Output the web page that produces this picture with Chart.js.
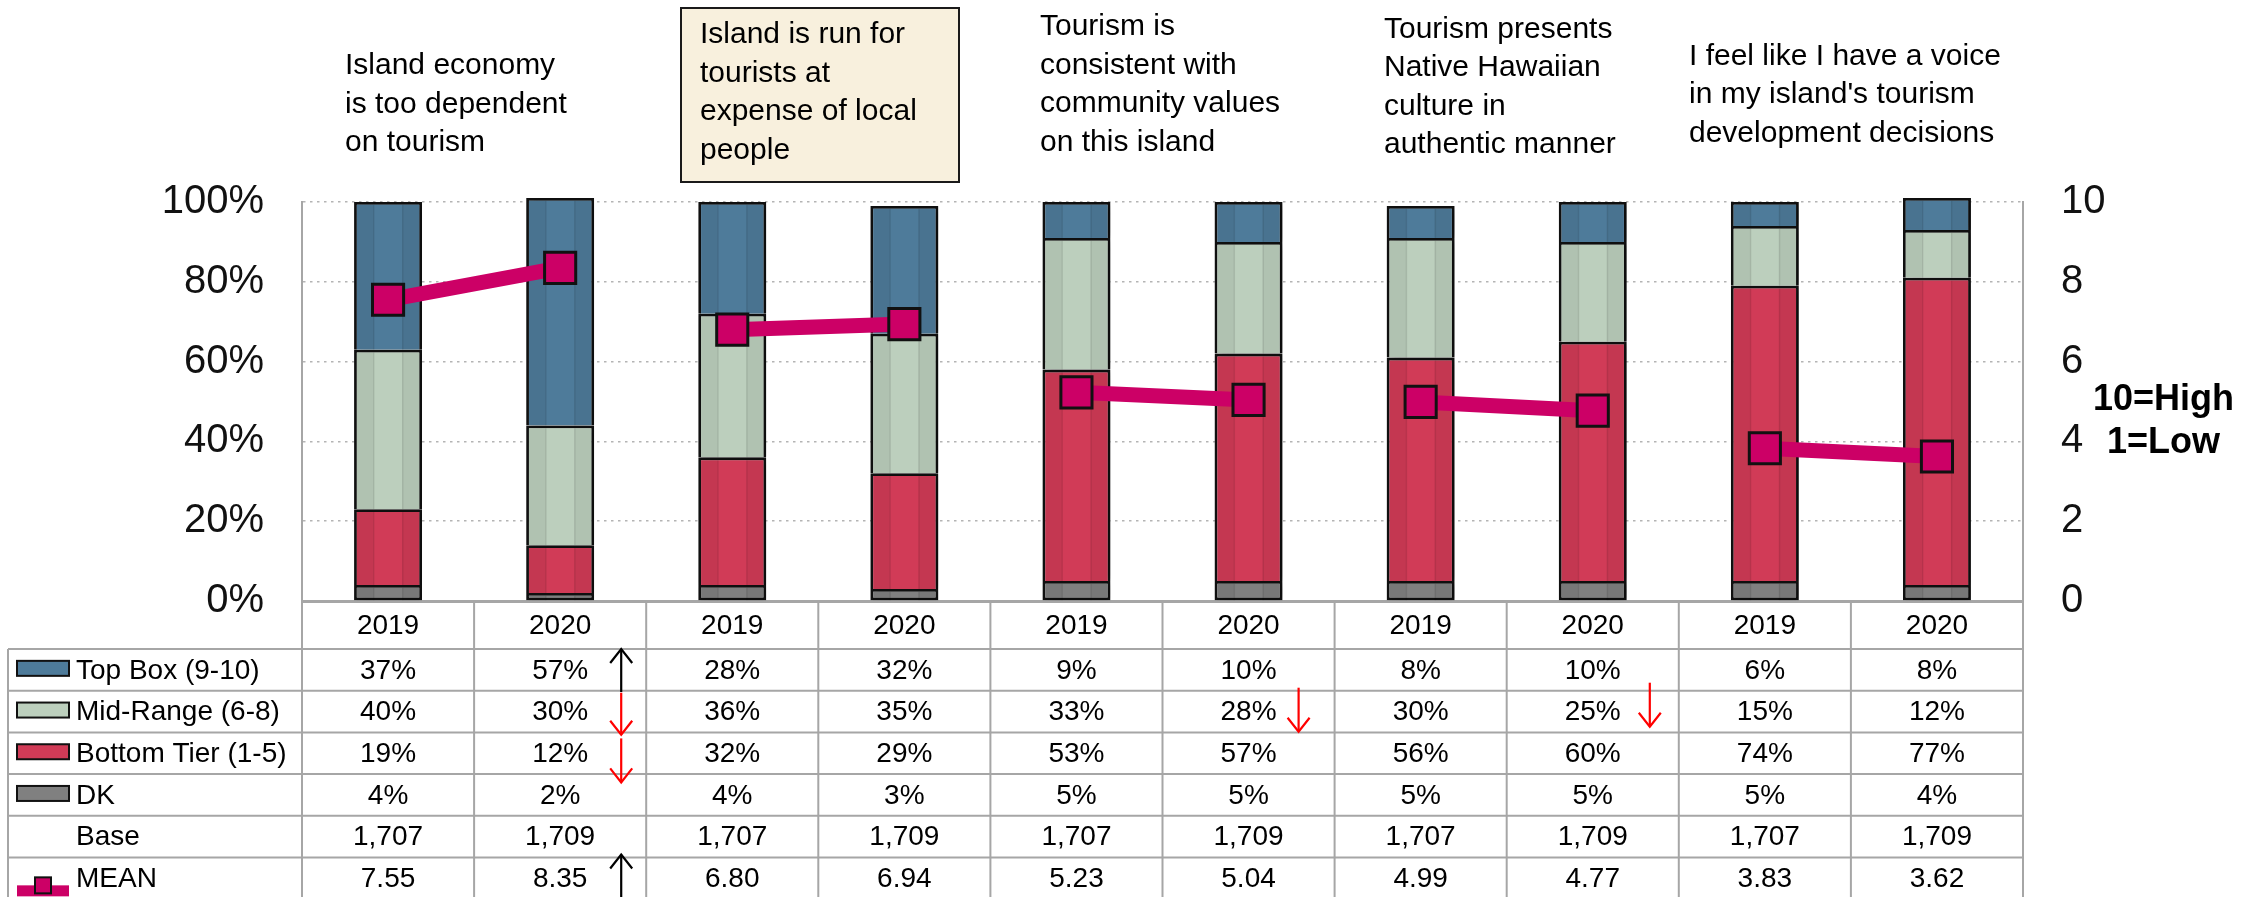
<!DOCTYPE html>
<html>
<head>
<meta charset="utf-8">
<script src="https://cdn.jsdelivr.net/npm/chart.js@4.4.1/dist/chart.umd.min.js"></script>
<style>
  html, body { margin: 0; padding: 0; background: #fff; }
  #wrap { width: 2264px; height: 897px; }
</style>
</head>
<body>
<div id="wrap"><canvas id="tourismChart" width="2264" height="897"></canvas></div>
<script>
// ---------- data ----------
const years = ["2019", "2020", "2019", "2020", "2019", "2020", "2019", "2020", "2019", "2020"];

const statements = [
    ["Island economy", "is too dependent", "on tourism"],
    ["Island is run for", "tourists at", "expense of local", "people"],
    ["Tourism is", "consistent with", "community values", "on this island"],
    ["Tourism presents", "Native Hawaiian", "culture in", "authentic manner"],
    ["I feel like I have a voice", "in my island's tourism", "development decisions"]
];

const topBox     = [37, 57, 28, 32, 9, 10, 8, 10, 6, 8];
const midRange   = [40, 30, 36, 35, 33, 28, 30, 25, 15, 12];
const bottomTier = [19, 12, 32, 29, 53, 57, 56, 60, 74, 77];
const dontKnow   = [4, 2, 4, 3, 5, 5, 5, 5, 5, 4];
const baseSizes  = [1707, 1709, 1707, 1709, 1707, 1709, 1707, 1709, 1707, 1709];
const meanScores = [7.55, 8.35, 6.80, 6.94, 5.23, 5.04, 4.99, 4.77, 3.83, 3.62];

const pctTicks  = [0, 20, 40, 60, 80, 100];
const meanTicks = [0, 2, 4, 6, 8, 10];

// ---------- styling ----------
const FONT = '"Liberation Sans", Arial, sans-serif';
const COLORS = {
    top: "#4e7b9a",
    mid: "#bccfbd",
    bottom: "#d13b57",
    dk: "#808080",
    mean: "#cc0066",
    grid: "#b4b4b4",
    rule: "#a6a6a6"
};

// where each statement heading sits (left x, first line middle y)
const headerPos = [
    { x: 345, y: 66 },
    { x: 700, y: 35, boxed: true },
    { x: 1040, y: 27 },
    { x: 1384, y: 29.5 },
    { x: 1689, y: 56.5 }
];
const LINE_GAP = 38.5;

// significance arrows in the table: column, row, x offset from column's right edge, tail/head y offsets from row top
const arrows = [
    { col: 1, row: 0, dx: 25, from: 43, to: 0, color: "#000" },
    { col: 1, row: 1, dx: 25, from: 2, to: 44, color: "#ff0000" },
    { col: 1, row: 2, dx: 25, from: 6, to: 50, color: "#ff0000" },
    { col: 1, row: 5, dx: 25, from: 45, to: -3, color: "#000" },
    { col: 5, row: 1, dx: 36, from: -3, to: 41, color: "#ff0000" },
    { col: 7, row: 1, dx: 29, from: -8, to: 36, color: "#ff0000" }
];

Chart.defaults.font.family = FONT;
Chart.defaults.color = "#111";

// ---------- helpers ----------
function drawArrow(ctx, x, yTail, yHead, color) {
    const dir = yHead < yTail ? -1 : 1;
    ctx.save();
    ctx.strokeStyle = color;
    ctx.lineWidth = 2.2;
    ctx.beginPath();
    ctx.moveTo(x, yTail);
    ctx.lineTo(x, yHead);
    ctx.stroke();
    ctx.beginPath();
    ctx.moveTo(x - 11, yHead - dir * 14);
    ctx.lineTo(x, yHead);
    ctx.lineTo(x + 11, yHead - dir * 14);
    ctx.stroke();
    ctx.restore();
}

function hline(ctx, x1, x2, y) {
    ctx.beginPath();
    ctx.moveTo(x1, y);
    ctx.lineTo(x2, y);
    ctx.stroke();
}

function vline(ctx, x, y1, y2) {
    ctx.beginPath();
    ctx.moveTo(x, y1);
    ctx.lineTo(x, y2);
    ctx.stroke();
}

// ---------- bar shading: soft shadow + darker side bands ----------
const barShade = {
    id: "barShade",
    beforeDatasetDraw(chart, args) {
        if (args.meta.type !== "bar") return;
        const ctx = chart.ctx;
        ctx.save();
        ctx.shadowColor = "rgba(0,0,0,0.35)";
        ctx.shadowBlur = 8;
        ctx.shadowOffsetX = 3;
        ctx.shadowOffsetY = 1;
    },
    afterDatasetDraw(chart, args) {
        if (args.meta.type !== "bar") return;
        const ctx = chart.ctx;
        ctx.restore();
        ctx.save();
        args.meta.data.forEach(el => {
            const p = el.getProps(["x", "y", "base", "width"], true);
            const l = p.x - p.width / 2;
            const top = Math.min(p.y, p.base) + 2.8;
            const bot = Math.max(p.y, p.base);
            const h = bot - top;
            if (h <= 0) return;
            ctx.fillStyle = "rgba(0,0,0,0.06)";
            ctx.fillRect(l + 2.8, top, 17.2, h);
            ctx.fillRect(l + p.width - 20, top, 17.2, h);
            ctx.fillStyle = "rgba(0,0,0,0.08)";
            ctx.fillRect(l + 19, top, 1.5, h);
            ctx.fillRect(l + p.width - 20, top, 1.5, h);
        });
        ctx.restore();
    }
};

// ---------- headings, data table, notes ----------
const tableAndLabels = {
    id: "tableAndLabels",
    afterDraw(chart) {
        const ctx = chart.ctx;
        const area = chart.chartArea;
        const n = years.length;
        const step = (area.right - area.left) / n;
        const colLeft = i => area.left + i * step;
        const colMid = i => area.left + (i + 0.5) * step;

        const yearTop = area.bottom;
        const yearBottom = yearTop + 48;
        const rowH = 41.7;
        const rowTop = r => yearBottom + r * rowH;
        const tableBottom = rowTop(6);
        const labelLeft = 8;

        ctx.save();

        // statement headings
        ctx.fillStyle = "#000";
        ctx.font = "30px " + FONT;
        ctx.textAlign = "left";
        ctx.textBaseline = "middle";
        statements.forEach((lines, i) => {
            const pos = headerPos[i];
            if (pos.boxed) {
                ctx.fillStyle = "#f8f0dd";
                ctx.fillRect(681, 8, 278, 174);
                ctx.strokeStyle = "#1a1a1a";
                ctx.lineWidth = 2;
                ctx.strokeRect(681, 8, 278, 174);
                ctx.fillStyle = "#000";
            }
            lines.forEach((t, k) => ctx.fillText(t, pos.x, pos.y + k * LINE_GAP));
        });

        // scale note beside the mean axis
        ctx.font = "bold 36px " + FONT;
        ctx.fillText("10=High", 2093, 400);
        ctx.fillText("1=Low", 2107, 443);

        // table rules
        ctx.strokeStyle = COLORS.rule;
        ctx.lineWidth = 2;
        for (let r = 0; r <= 6; r++) hline(ctx, labelLeft, area.right, rowTop(r));
        vline(ctx, labelLeft, yearBottom, tableBottom);
        for (let i = 0; i <= n; i++) vline(ctx, colLeft(i), yearTop, tableBottom);
        vline(ctx, area.right, area.top, yearTop);

        // year row
        ctx.fillStyle = "#000";
        ctx.font = "28px " + FONT;
        ctx.textAlign = "center";
        years.forEach((y, i) => ctx.fillText(y, colMid(i), (yearTop + yearBottom) / 2 + 1));

        const rows = [
            { label: "Top Box (9-10)", swatch: COLORS.top, values: topBox.map(v => v + "%") },
            { label: "Mid-Range (6-8)", swatch: COLORS.mid, values: midRange.map(v => v + "%") },
            { label: "Bottom Tier (1-5)", swatch: COLORS.bottom, values: bottomTier.map(v => v + "%") },
            { label: "DK", swatch: COLORS.dk, values: dontKnow.map(v => v + "%") },
            { label: "Base", values: baseSizes.map(v => v.toLocaleString("en-US")) },
            { label: "MEAN", meanKey: true, values: meanScores.map(v => v.toFixed(2)) }
        ];

        rows.forEach((row, r) => {
            const cy = rowTop(r) + rowH / 2;
            ctx.fillStyle = "#000";
            ctx.textAlign = "center";
            row.values.forEach((v, i) => ctx.fillText(v, colMid(i), cy + 1));

            ctx.textAlign = "left";
            ctx.fillText(row.label, 76, cy + 1);

            if (row.swatch) {
                ctx.fillStyle = row.swatch;
                ctx.fillRect(17, cy - 9, 52, 15);
                ctx.strokeStyle = "#111";
                ctx.lineWidth = 2;
                ctx.strokeRect(17, cy - 9, 52, 15);
            }
            if (row.meanKey) {
                ctx.fillStyle = COLORS.mean;
                ctx.fillRect(17, cy + 7, 52, 11);
                ctx.fillRect(35, cy - 1, 16, 16);
                ctx.strokeStyle = "#111";
                ctx.lineWidth = 2;
                ctx.strokeRect(35, cy - 1, 16, 16);
            }
        });

        // significance arrows
        arrows.forEach(a => {
            const x = colLeft(a.col + 1) - a.dx;
            drawArrow(ctx, x, rowTop(a.row) + a.from, rowTop(a.row) + a.to, a.color);
        });

        ctx.restore();
    }
};

// ---------- chart ----------
const barBase = {
    type: "bar",
    stack: "share",
    order: 1,
    borderColor: "#111",
    borderWidth: 2.8,
    barPercentage: 0.395,
    categoryPercentage: 1,
    clip: false
};

const chart = new Chart(document.getElementById("tourismChart"), {
    data: {
        labels: years,
        datasets: [
            {
                type: "line",
                label: "MEAN",
                data: meanScores,
                yAxisID: "yMean",
                order: 0,
                borderColor: COLORS.mean,
                borderWidth: 15,
                borderCapStyle: "butt",
                tension: 0,
                segment: {
                    // only the 2019 -> 2020 pair within a statement is joined
                    borderColor: c => (c.p0DataIndex % 2 === 0 ? COLORS.mean : "rgba(0,0,0,0)")
                },
                pointStyle: "rect",
                pointRadius: 22,
                pointHoverRadius: 22,
                pointBackgroundColor: COLORS.mean,
                pointBorderColor: "#111",
                pointBorderWidth: 3
            },
            Object.assign({}, barBase, { label: "DK", data: dontKnow, backgroundColor: COLORS.dk, borderSkipped: false }),
            Object.assign({}, barBase, { label: "Bottom Tier (1-5)", data: bottomTier, backgroundColor: COLORS.bottom }),
            Object.assign({}, barBase, { label: "Mid-Range (6-8)", data: midRange, backgroundColor: COLORS.mid }),
            Object.assign({}, barBase, { label: "Top Box (9-10)", data: topBox, backgroundColor: COLORS.top })
        ]
    },
    options: {
        responsive: false,
        animation: false,
        devicePixelRatio: 1,
        layout: { padding: { top: 202, left: 0, right: 0, bottom: 0 } },
        plugins: {
            legend: { display: false },
            tooltip: { enabled: false }
        },
        scales: {
            x: {
                stacked: true,
                grid: { display: false },
                ticks: { display: false },
                border: { color: COLORS.rule, width: 3 },
                afterFit(scale) { scale.height = 296; }
            },
            y: {
                stacked: true,
                position: "left",
                min: 0,
                max: 100,
                afterBuildTicks(scale) { scale.ticks = pctTicks.map(v => ({ value: v })); },
                ticks: {
                    callback: v => v + "%",
                    font: { size: 40 },
                    color: "#111",
                    padding: 38
                },
                grid: {
                    drawTicks: false,
                    lineWidth: 1.5,
                    color: c => (c.tick && c.tick.value === 0 ? "rgba(0,0,0,0)" : COLORS.grid)
                },
                border: { color: COLORS.rule, width: 2, dash: [2.5, 4.5] },
                afterFit(scale) { scale.width = 302; }
            },
            yMean: {
                position: "right",
                min: 0,
                max: 10,
                afterBuildTicks(scale) { scale.ticks = meanTicks.map(v => ({ value: v })); },
                ticks: {
                    font: { size: 40 },
                    color: "#111",
                    padding: 38
                },
                grid: { display: false, drawTicks: false },
                border: { color: COLORS.rule, width: 2 },
                afterFit(scale) { scale.width = 241; }
            }
        }
    },
    plugins: [barShade, tableAndLabels]
});
</script>
</body>
</html>
